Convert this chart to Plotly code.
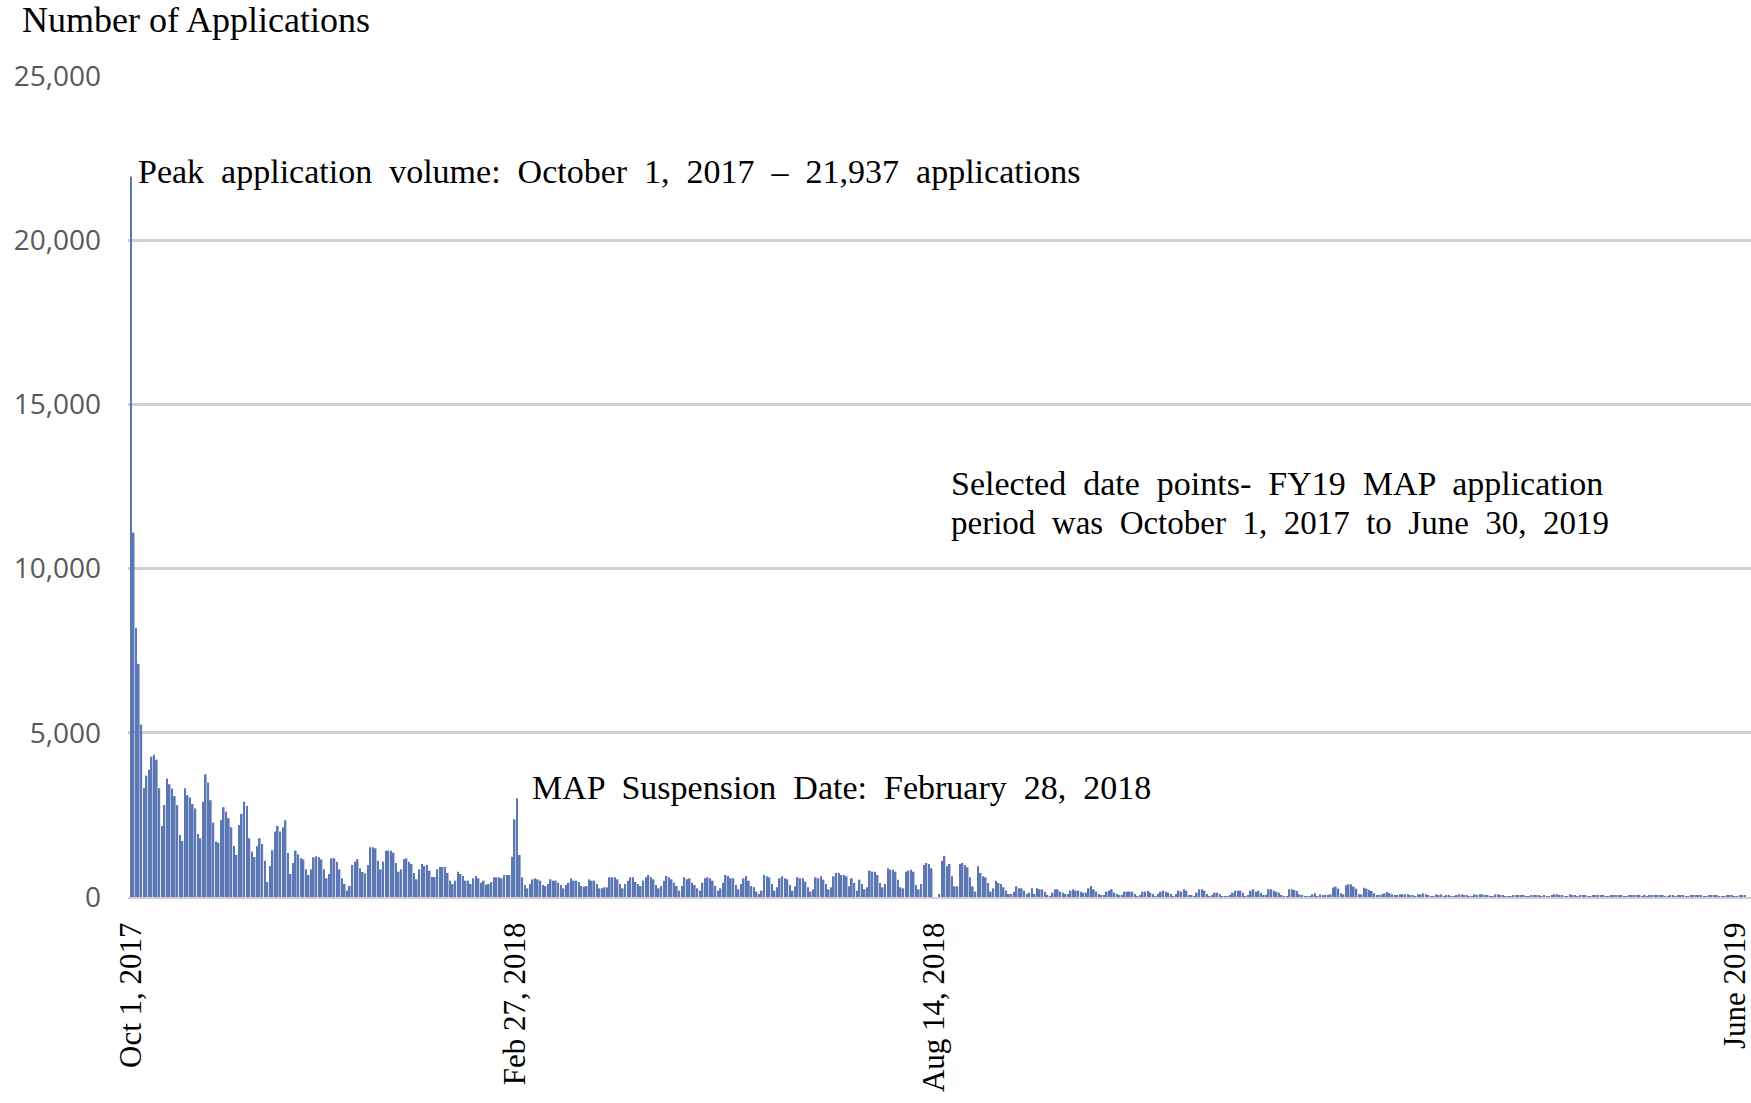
import plotly.graph_objects as go

# Daily application counts, read left to right from the reference
# (first bar = Oct 1, 2017; last bar = June 30, 2019)
oct_2017 = [21937, 11100, 8200, 7100, 5250, 3313, 3697, 3878, 4272, 4333,
            4181, 3313, 2161, 2798, 3606, 3434, 3303, 3070, 2798, 1889,
            1707, 3313, 3100, 3030, 2828, 2697, 1919, 1788, 2899, 3737]

nov_2017_feb_2018a = [3485, 2946, 2266, 1687, 1656, 2347, 2733, 2600, 2398, 2123,
                      1554, 1280, 2195, 2530, 2906, 2774, 1788, 1382, 1219, 1544,
                      1788, 1615, 1107, 457, 945, 1422, 1991, 2164, 1991, 2123,
                      2337, 1341, 701, 1036, 1412, 1300, 1178, 1148, 843, 670,
                      843, 1209, 1240, 1209, 1148, 843, 569, 701, 1178, 1178,
                      1077, 843, 569, 396, 193, 335, 975, 1077, 1148, 874,
                      762, 721, 975, 1514, 1514, 1483, 1107, 843, 1077, 1412,
                      1412, 1412, 1351, 1036, 772, 843, 1148, 1178, 1077, 1006,
                      731, 538, 843, 1006, 945, 975, 803, 610, 610, 843,
                      914, 914, 914, 731, 498, 396, 498, 772, 701, 640,
                      498, 498, 396]

feb_may_2018 = [569, 640, 569, 437, 498, 376, 396, 457, 600, 600,
                600, 569, 670, 670, 670, 1229, 2367, 3007, 1280, 600,
                366, 264, 396, 538, 569, 538, 498, 366, 335, 396,
                538, 498, 498, 437, 366, 264, 366, 437, 569, 498,
                498, 457, 335, 315, 335, 538, 498, 498, 396, 264,
                264, 295, 295, 600, 600, 600, 538, 396, 264, 396,
                498, 600, 600, 457, 396, 335, 498, 600, 670, 600,
                538, 366, 264, 335, 498, 640, 600, 538, 437, 335,
                193, 335, 600, 538, 569, 437, 366, 264, 193, 437,
                569, 600, 569, 498, 335, 193, 264, 437, 670, 640,
                569, 569, 366, 234, 396, 569, 640, 498, 335]

jun_aug_2018 = [295, 163, 91, 193, 670, 630, 600, 396, 193, 295,
                569, 630, 569, 538, 366, 193, 325, 600, 569, 569,
                467, 295, 163, 234, 600, 569, 630, 528, 396, 234,
                295, 630, 732, 732, 670, 670, 630, 325, 569, 427,
                193, 528, 396, 234, 295, 803, 772, 772, 670, 427,
                295, 396, 874, 833, 833, 772, 528, 295, 264, 772,
                803, 833, 772, 366, 234, 396, 975, 1036, 1006, 874]

aug_sep_2018 = [0, 0, 91, 1107, 1250, 935, 1006, 630, 325, 325,
                1006, 1036, 975, 904, 600, 325, 163, 935, 732, 630,
                600, 427, 163, 264, 498, 427, 396, 295, 193, 91,
                91, 163, 325, 264]

oct_2018_jan_2019 = [264, 193, 91, 132, 264, 91, 264, 234, 234, 163,
                     61, 10, 132, 234, 234, 163, 132, 91, 91, 193,
                     234, 193, 193, 163, 132, 132, 264, 335, 234, 163,
                     91, 61, 61, 163, 193, 234, 132, 91, 61, 61,
                     163, 163, 163, 163, 91, 30, 61, 163, 163, 193,
                     132, 91, 30, 91, 163, 193, 163, 132, 91, 30,
                     91, 193, 163, 234, 193, 61, 61, 30, 132, 234,
                     234, 193, 91, 30, 61, 132, 132, 91, 10, 10,
                     30, 61, 132, 193, 193, 193, 132, 30, 61, 193,
                     234, 163, 193, 132, 61, 61, 234, 234, 193, 163,
                     132, 61, 10, 30, 234, 234]

jan_apr_2019 = [213, 183, 81, 51, 10, 10, 10, 81, 112, 10,
                81, 51, 51, 51, 81, 284, 315, 254, 112, 81,
                356, 386, 386, 315, 254, 81, 81, 284, 254, 213,
                183, 112, 51, 51, 81, 112, 152, 112, 81, 51,
                51, 81, 81, 81, 81, 51, 51, 10, 81, 81,
                112, 81, 51, 10, 10, 81, 51, 81, 10, 51,
                51, 10, 10, 51, 81, 81, 51, 51, 10, 10,
                81, 51, 81, 81, 51, 51, 10, 10, 81, 81,
                51, 51, 10, 10, 10, 51, 51, 51, 51, 51,
                10, 10, 51, 51, 51, 51, 10, 51, 10, 10,
                51, 81, 81, 51, 51, 10, 10, 81, 51]

may_jun_2019 = [61, 20, 61, 40, 40, 10, 10, 40, 40, 61,
                61, 40, 10, 10, 40, 61, 40, 61, 40, 10,
                10, 61, 61, 61, 61, 40, 10, 40, 20, 40,
                61, 61, 61, 61, 40, 10, 10, 61, 40, 20,
                61, 61, 40, 10, 10, 40, 61, 40, 61, 40,
                10, 10, 61, 61, 61, 40, 10, 10, 20, 61,
                40, 40, 10, 10, 40, 40, 40]

applications = (oct_2017 + nov_2017_feb_2018a + feb_may_2018 + jun_aug_2018
                + aug_sep_2018 + oct_2018_jan_2019 + jan_apr_2019 + may_jun_2019)
bar_index = list(range(len(applications)))

# Selected date points shown on the x axis (bar index of each labelled day)
tick_labels = ["Oct 1, 2017", "Feb 27, 2018", "Aug 14, 2018", "June 2019"]
tick_bar_index = [0, 149, 312, 623]

y_ticks = [0, 5000, 10000, 15000, 20000, 25000]

SERIF = "Liberation Serif, Times New Roman, serif"


def spaced(text):
    # widen the word spacing like the justified text in the original
    return text.replace(" ", " \u00a0")


fig = go.Figure()
fig.add_trace(go.Bar(
    x=bar_index,
    y=applications,
    marker=dict(color="#5b78b4", line=dict(width=0)),
    hoverinfo="y",
))

fig.update_layout(
    width=1751,
    height=1103,
    paper_bgcolor="white",
    plot_bgcolor="white",
    margin=dict(l=128, r=0, t=76, b=206, autoexpand=False),
    bargap=0.34,
    showlegend=False,
    xaxis=dict(
        range=[-1.17, 629.3],
        tickmode="array",
        tickvals=tick_bar_index,
        ticktext=tick_labels,
        tickangle=-90,
        tickfont=dict(family=SERIF, size=31, color="black"),
        ticks="",
        ticklabelstandoff=11,
        ticklabeloverflow="allow",
        automargin=False,
        showgrid=False,
        zeroline=False,
        showline=True,
        linecolor="#cfcfcf",
        linewidth=2,
    ),
    yaxis=dict(
        range=[0, 25000],
        tickmode="array",
        tickvals=y_ticks,
        ticktext=[f"{v:,}" for v in y_ticks],
        tickfont=dict(family="Open Sans, sans-serif", size=28, color="#595959"),
        ticks="",
        ticklabelstandoff=26,
        automargin=False,
        showgrid=True,
        gridcolor="#d0d0d0",
        gridwidth=2.5,
        zeroline=False,
        showline=False,
    ),
)

annotations = [
    dict(text="Number of Applications", x=-0.0665, y=1.068, xanchor="left", yanchor="middle",
         font=dict(size=36)),
    dict(text=spaced("Peak application volume: October 1, 2017 \u2013 21,937 applications"),
         x=0.0049, y=0.884, xanchor="left", yanchor="middle", font=dict(size=34)),
    dict(text=spaced("MAP Suspension Date: February 28, 2018"),
         x=0.2477, y=0.1328, xanchor="left", yanchor="middle", font=dict(size=34)),
    dict(text=spaced("Selected date points- FY19 MAP application"),
         x=0.5059, y=0.504, xanchor="left", yanchor="middle", font=dict(size=34)),
    dict(text=spaced("period was October 1, 2017 to June 30, 2019"),
         x=0.5059, y=0.456, xanchor="left", yanchor="middle", font=dict(size=33)),
]
for a in annotations:
    a.update(xref="paper", yref="paper", showarrow=False)
    a["font"].update(family=SERIF, color="black")
    fig.add_annotation(**a)

fig.write_html(
    "out.html",
    config={"displayModeBar": False},
    post_script="document.body.style.margin='0';document.body.style.overflow='hidden';",
)
